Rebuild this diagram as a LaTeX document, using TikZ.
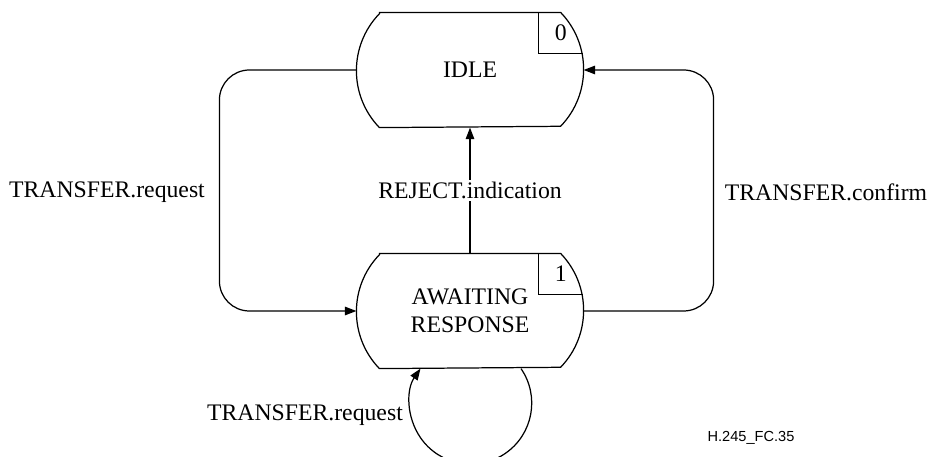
\documentclass[tikz,border=0pt]{standalone}
\usepackage{fontspec}
\setmainfont{Liberation Serif}
\newfontfamily\figfont{Liberation Sans}
\usetikzlibrary{arrows.meta, calc}

\begin{document}
\begin{tikzpicture}[
        x=0.02cm, y=0.02cm, line width=0.7pt,
        state/.style={rectangle, minimum width=4.52cm, minimum height=2.28cm, inner sep=0pt, align=center, font=\fontsize{13.5}{16}\selectfont},
        numbox/.style={rectangle, minimum width=0.86cm, minimum height=0.8cm, inner sep=0pt, font=\fontsize{13.5}{16}\selectfont},
        lbl/.style={inner sep=1pt, font=\fontsize{13.5}{16}\selectfont},
        flow/.style={-{Triangle[length=2.3mm, width=1.7mm]}}
    ]
    \useasboundingbox (0,0) rectangle (932,456);

    % States
    \node[state] (idle) at (470,386) {IDLE};
    \node[state] (await) at (470,145) {AWAITING\\RESPONSE};

    % State outlines (flat top/bottom, bulging sides)
    \draw ($(idle.north west)+(23,0)$) -- ($(idle.north east)+(-23,0)$)
        arc[start angle=44, end angle=-44, radius=1.64cm]
        -- ($(idle.south west)+(23,0)$)
        arc[start angle=224, end angle=136, radius=1.64cm] -- cycle;
    \draw ($(await.north west)+(23,0)$) -- ($(await.north east)+(-23,0)$)
        arc[start angle=44, end angle=-44, radius=1.64cm]
        -- ($(await.south west)+(23,0)$)
        arc[start angle=224, end angle=136, radius=1.64cm] -- cycle;

    % State numbers
    \node[numbox, anchor=north west] (idlenum) at ($(idle.north east)+(-45,0)$) {0};
    \draw (idlenum.north west) -- (idlenum.south west) -- (idlenum.south east);
    \node[numbox, anchor=north west] (awaitnum) at ($(await.north east)+(-45,0)$) {1};
    \draw (awaitnum.north west) -- (awaitnum.south west) -- (awaitnum.south east);

    % Transitions
    \draw[flow, rounded corners=0.6cm] (idle.west) -| ($(await.west)+(-137,0)$) -- (await.west);
    \draw[flow, rounded corners=0.6cm] (await.east) -| ($(idle.east)+(130,0)$) -- (idle.east);
    \draw[flow] (await.north) -- node[lbl, fill=white] (rejlbl) {REJECT.indication} (idle.south);
    \draw[flow] ($(await.south)+(51,0)$) arc[start angle=34.5, end angle=-214.5, radius=1.22cm];

    % Labels
    \node[lbl] (reqlbl) at (107,264) {TRANSFER.request};
    \node[lbl] (conflbl) at (826,264) {TRANSFER.confirm};
    \node[lbl] (looplbl) at (305,41) {TRANSFER.request};
    \node[font=\figfont\fontsize{8.3}{10}\selectfont, inner sep=0pt] (figid) at (751,18) {H.245\_FC.35};

\end{tikzpicture}
\end{document}
